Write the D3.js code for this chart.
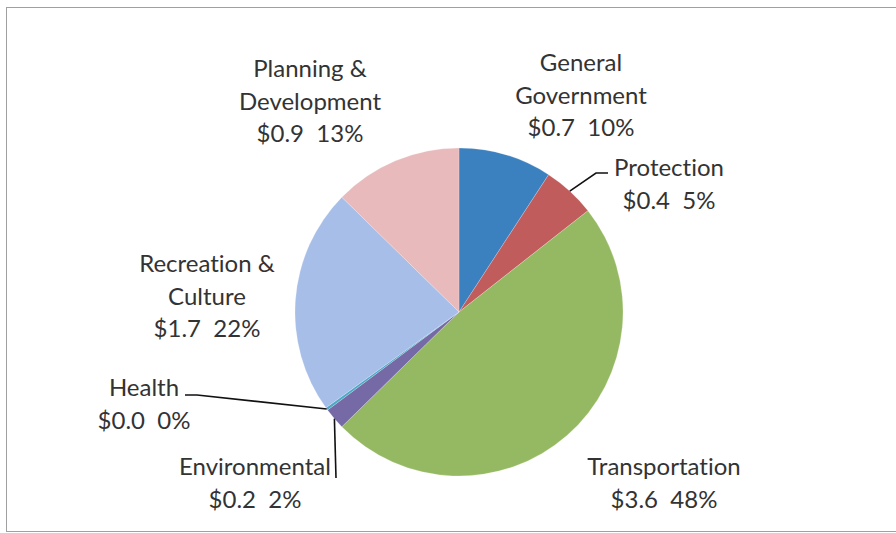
<!DOCTYPE html>
<html>
<head>
<meta charset="utf-8">
<script src="https://cdn.jsdelivr.net/npm/d3@7/dist/d3.min.js"></script>
<style>
  html, body { margin: 0; padding: 0; background: #fff; }
  svg { display: block; }
  text { font-variant-ligatures: none; font-feature-settings: "liga" 0, "clig" 0; }
</style>
</head>
<body>
<svg id="chart" width="896" height="533"></svg>
<script>
// ---- data ----
const categories = ["General Government", "Protection", "Transportation", "Environmental", "Health", "Recreation & Culture", "Planning & Development"];
const values = [0.69, 0.39, 3.62, 0.16, 0.02, 1.67, 0.95];           // $ millions
const nameLines = [["General", "Government"], ["Protection"], ["Transportation"], ["Environmental"], ["Health"], ["Recreation &", "Culture"], ["Planning &", "Development"]];
const valueLabels = ["$0.7", "$0.4", "$3.6", "$0.2", "$0.0", "$1.7", "$0.9"];
const pctLabels = ["10%", "5%", "48%", "2%", "0%", "22%", "13%"];
const colors = ["#3b80bf", "#c15c5d", "#95b962", "#7569a6", "#4aa9c5", "#a6bee8", "#e8babb"];

// label layout (centre x, first baseline y) and leader lines
const labelPos = [[581, 71], [669, 176], [664, 475], [255, 475], [144, 396], [207, 272], [310, 77]];
const leaders = {
  1: [[596, 173], [608, 173]],
  3: [[336, 478]],
  4: [[197, 395], [185, 395]]
};

const svg = d3.select("#chart");
const W = 896, H = 533;
const cx = 459, cy = 312, R = 164;

// frame
svg.append("rect").attr("x", 6.5).attr("y", 7.5).attr("width", W + 10).attr("height", 524)
  .attr("fill", "none").attr("stroke", "#a0a0a0").attr("stroke-width", 1);

const pie = d3.pie().sort(null).value(d => d)(values);
const arc = d3.arc().innerRadius(0).outerRadius(R);

const g = svg.append("g").attr("transform", `translate(${cx},${cy})`);
g.selectAll("path").data(pie).join("path")
  .attr("d", arc)
  .attr("fill", (d, i) => colors[i])
  .attr("stroke", "#ffffff").attr("stroke-width", 0.4).attr("stroke-opacity", 0.5);

// leader lines: start at the slice's outer edge midpoint
Object.keys(leaders).forEach(k => {
  const i = +k;
  const a = (pie[i].startAngle + pie[i].endAngle) / 2;
  const start = [cx + R * Math.sin(a), cy - R * Math.cos(a)];
  const pts = [start].concat(leaders[k]);
  svg.append("path").attr("d", d3.line()(pts))
    .attr("fill", "none").attr("stroke", "#111").attr("stroke-width", 1.6);
});

// labels
const fontSize = 24, lh = 32.5;
categories.forEach((c, i) => {
  const lines = nameLines[i].concat([valueLabels[i] + "  " + pctLabels[i]]);
  const t = svg.append("text")
    .attr("x", labelPos[i][0]).attr("y", labelPos[i][1])
    .attr("text-anchor", "middle")
    .attr("font-family", "Lato, 'Open Sans', sans-serif")
    .attr("font-size", fontSize).attr("fill", "#333")
    .style("white-space", "pre");
  lines.forEach((l, j) => {
    t.append("tspan").attr("x", labelPos[i][0]).attr("dy", j === 0 ? 0 : lh).text(l);
  });
});
</script>
</body>
</html>
